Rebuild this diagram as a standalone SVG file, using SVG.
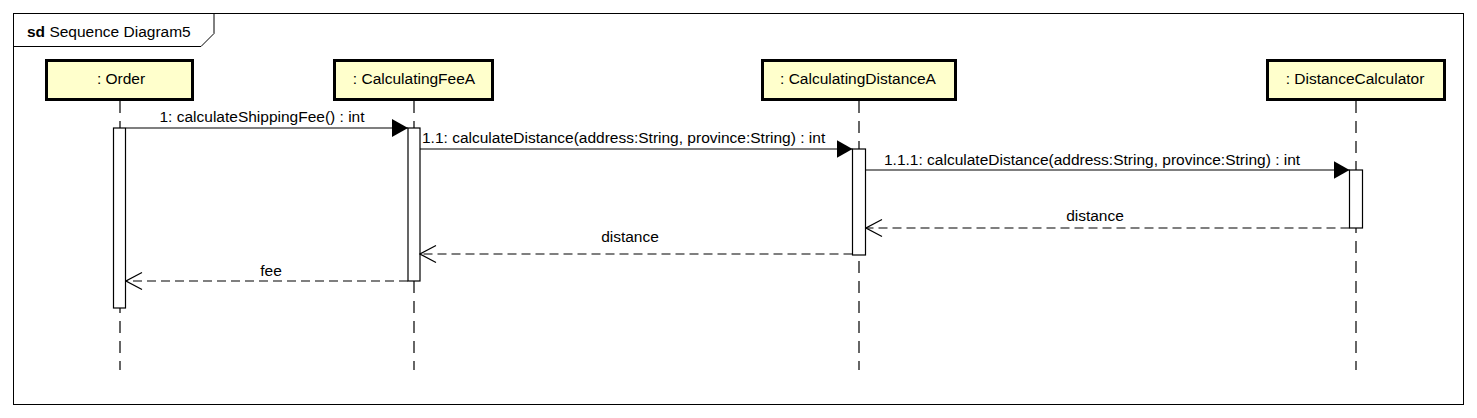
<svg xmlns="http://www.w3.org/2000/svg" width="1477" height="418" viewBox="0 0 1477 418">
<style>
text{font-family:"Liberation Sans",Arial,sans-serif;font-size:15.5px;fill:#000}
.head{fill:#ffffcc;stroke:#000;stroke-width:3}
.life{stroke:#000;stroke-width:1.2;stroke-dasharray:12,8;fill:none}
.act{fill:#fff;stroke:#000;stroke-width:1.2}
.call{stroke:#000;stroke-width:1.2;fill:none;marker-end:url(#filled)}
.ret{stroke:#000;stroke-width:1.2;fill:none;stroke-dasharray:9,5;marker-end:url(#open)}
.mid{text-anchor:middle}
</style>
<defs>
<marker id="filled" markerUnits="userSpaceOnUse" markerWidth="17" markerHeight="19" viewBox="0 0 17 19" refX="16" refY="9.5" orient="auto">
<path d="M0,0.5 L16,9.5 L0,18.5 z" fill="#000"/>
</marker>
<marker id="open" markerUnits="userSpaceOnUse" markerWidth="18" markerHeight="20" viewBox="0 0 18 20" refX="17" refY="10" orient="auto">
<path d="M1,1.5 L17,10 L1,18.5" fill="none" stroke="#000" stroke-width="1.2"/>
</marker>
</defs>
<rect width="1477" height="418" fill="#fff"/>
<g id="frame">
<rect x="13.5" y="13.5" width="1450" height="391" fill="none" stroke="#000" stroke-width="1"/>
<path d="M13.5,46.5 H201 L214,33.5 V13.5" fill="none" stroke="#000" stroke-width="1"/>
<text x="27" y="37"><tspan font-weight="bold">sd</tspan> Sequence Diagram5</text>
</g>
<g id="order">
<line class="life" x1="120" y1="101" x2="120" y2="370"/>
<rect class="head" x="46.5" y="60.5" width="146" height="39"/>
<text class="mid" x="121" y="84">: Order</text>
<rect class="act" x="113.5" y="128" width="12" height="180"/>
</g>
<g id="calculatingFeeA">
<line class="life" x1="414" y1="101" x2="414" y2="370"/>
<rect class="head" x="334.5" y="60.5" width="158" height="39"/>
<text class="mid" x="414" y="84">: CalculatingFeeA</text>
<rect class="act" x="408" y="128" width="12" height="153"/>
</g>
<g id="calculatingDistanceA">
<line class="life" x1="859" y1="101" x2="859" y2="370"/>
<rect class="head" x="762.5" y="60.5" width="193" height="39"/>
<text class="mid" x="858" y="84">: CalculatingDistanceA</text>
<rect class="act" x="852.5" y="149" width="13" height="106"/>
</g>
<g id="distanceCalculator">
<line class="life" x1="1356" y1="101" x2="1356" y2="370"/>
<rect class="head" x="1267.5" y="60.5" width="177" height="39"/>
<text class="mid" x="1355" y="84">: DistanceCalculator</text>
<rect class="act" x="1349.5" y="170" width="13" height="58"/>
</g>
<g id="connectors">
<line class="call" x1="126" y1="128" x2="408" y2="128"/>
<text class="mid" x="262" y="122">1: calculateShippingFee() : int</text>
<line class="call" x1="420" y1="149" x2="852.5" y2="149"/>
<text x="422" y="143">1.1: calculateDistance(address:String, province:String) : int</text>
<line class="call" x1="865.5" y1="170" x2="1349.5" y2="170"/>
<text x="884" y="165">1.1.1: calculateDistance(address:String, province:String) : int</text>
<line class="ret" x1="1349.5" y1="228" x2="866" y2="228"/>
<text class="mid" x="1095" y="221">distance</text>
<line class="ret" x1="852.5" y1="254" x2="420" y2="254"/>
<text class="mid" x="630" y="242">distance</text>
<line class="ret" x1="408" y1="281" x2="126" y2="281"/>
<text class="mid" x="271" y="276">fee</text>
</g>
</svg>
